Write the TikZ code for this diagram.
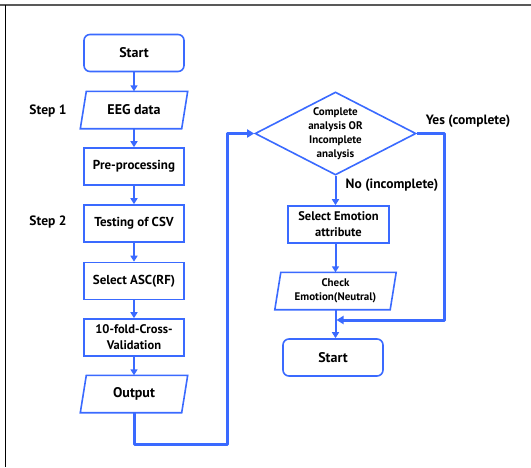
\documentclass[tikz,border=0pt]{standalone}
\usepackage{fontspec}
\setmainfont{PT Sans}
\usetikzlibrary{shapes.geometric,arrows.meta,calc}
\definecolor{flowblue}{RGB}{58,106,255}
\begin{document}
\begin{tikzpicture}[x=1pt,y=-1pt,
  box/.style={draw=flowblue,line width=1.6pt,fill=white,minimum width=100pt,minimum height=37pt,
    inner sep=1pt,align=center,font=\fontsize{13}{15}\selectfont\bfseries},
  term/.style={box,rounded corners=6pt,font=\fontsize{14}{16}\selectfont\bfseries},
  iobox/.style={minimum width=107pt,minimum height=37pt,inner sep=1pt,align=center,
    font=\fontsize{14}{16}\selectfont\bfseries},
  arr/.style={draw=flowblue,line width=2pt,-{Triangle[length=6pt,width=7pt]}},
  flow/.style={draw=flowblue,line width=3pt,line join=round},
  flowarr/.style={flow,-{Triangle[length=7pt,width=8pt]}},
  lbl/.style={font=\fontsize{13.5}{15}\selectfont\bfseries}]
\useasboundingbox (0,0) rectangle (531,467);
% frame
\draw[gray!70!black,line width=2pt] (0,5) -- (531,5);
\draw[black,line width=1.4pt] (5.5,5) -- (5.5,467);

% left column
\node[term] (start) at (134,53) {Start};
\node[iobox] (eeg) at (134,110) {EEG data};
\node[box] (pre) at (134,166.5) {Pre-processing};
\node[box] (csv) at (134,223.5) {Testing of CSV};
\node[box] (asc) at (134,281) {Select ASC(RF)};
\node[box,font=\fontsize{12.5}{16}\selectfont\bfseries] (cv) at (134,337.5) {10-fold-Cross-\\Validation};
\node[iobox] (out) at (134,394) {Output};

% right column
\node[draw=flowblue,line width=1.6pt,shape=diamond,aspect=1.94,minimum width=161pt,minimum height=83pt,
  inner sep=0pt,align=center,font=\fontsize{11}{14}\selectfont\bfseries] (dec) at (335.5,133.5)
  {Complete\\analysis OR\\Incomplete\\analysis};
\node[box,minimum width=101pt,font=\fontsize{12.5}{16}\selectfont\bfseries] (sel) at (338.5,224.5) {Select Emotion\\attribute};
\node[iobox,minimum width=121pt,font=\fontsize{11}{14}\selectfont\bfseries] (chk) at (335.5,291) {Check\\Emotion(Neutral)};
\node[term] (end) at (333,357.5) {Start};

% parallelogram outlines for the input/output nodes
\foreach \n in {eeg,out,chk}{
  \draw[flowblue,line width=1.6pt,line join=miter]
    ($(\n.north west)+(6,0)$) -- (\n.north east) -- ($(\n.south east)-(6,0)$) -- (\n.south west) -- cycle;
}

% side labels
\node[lbl] (s1) at (48,111) {Step 1};
\node[lbl] (s2) at (48,222) {Step 2};
\node[lbl] (yes) at (468,121) {Yes (complete)};
\node[lbl] (no) at (392,185) {No (incomplete)};

% arrows along the left column
\draw[arr] (start) -- (eeg);
\draw[arr] (eeg) -- (pre);
\draw[arr] (pre) -- (csv);
\draw[arr] (csv) -- (asc);
\draw[arr] (asc) -- (cv);
\draw[arr] (cv) -- (out);

% loop from output into the decision
\coordinate (lb) at (227,444);
\draw[flowarr] (out.south) |- (lb) |- (dec.west);

% right column flow
\draw[arr] (dec.south) -- (sel.north -| dec.south);
\draw[arr] (sel.south -| chk.north) -- (chk.north);
\draw[arr] (chk.south) -- (end.north -| chk.south);
\coordinate (yc) at (444,320);
\coordinate (mg) at (336.5,320);
\draw[flowarr] (dec.east) -| (yc) -- (mg);
\end{tikzpicture}
\end{document}
